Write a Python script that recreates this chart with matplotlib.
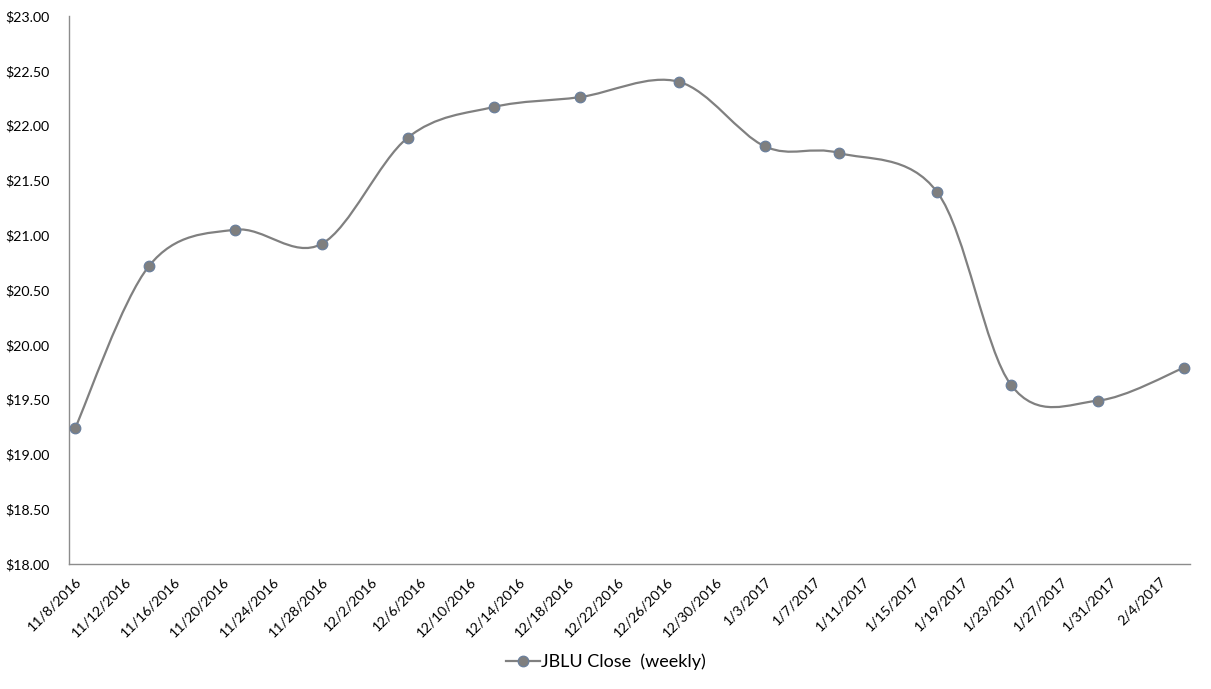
import datetime as dt
import matplotlib
matplotlib.use("Agg")
import matplotlib.pyplot as plt
import matplotlib.dates as mdates
from matplotlib.path import Path
from matplotlib.patches import PathPatch
from matplotlib.lines import Line2D

# weekly closes
dates = ["2016-11-08", "2016-11-14", "2016-11-21", "2016-11-28", "2016-12-05",
         "2016-12-12", "2016-12-19", "2016-12-27", "2017-01-03", "2017-01-09",
         "2017-01-17", "2017-01-23", "2017-01-30", "2017-02-06"]
close = [19.24, 20.72, 21.05, 20.92, 21.89, 22.17, 22.26, 22.40, 21.81, 21.75,
         21.39, 19.63, 19.49, 19.79]

label = "JBLU Close  (weekly)"
line_col = "#808080"
mark_col = "#7f7f7f"
edge_col = "#6a7f9c"

x = [mdates.date2num(dt.datetime.strptime(d, "%Y-%m-%d")) for d in dates]
y = close


def smooth_path(xs, ys):
    # excel style smoothed line: catmull-rom turned into cubic bezier pieces
    n = len(xs)
    verts = [(xs[0], ys[0])]
    codes = [Path.MOVETO]
    for i in range(n - 1):
        i0 = max(i - 1, 0)
        i3 = min(i + 2, n - 1)
        c1 = (xs[i] + (xs[i + 1] - xs[i0]) / 6.0, ys[i] + (ys[i + 1] - ys[i0]) / 6.0)
        c2 = (xs[i + 1] - (xs[i3] - xs[i]) / 6.0, ys[i + 1] - (ys[i3] - ys[i]) / 6.0)
        verts += [c1, c2, (xs[i + 1], ys[i + 1])]
        codes += [Path.CURVE4] * 3
    return Path(verts, codes)


plt.rcParams["font.family"] = ["Lato", "DejaVu Sans"]

fig = plt.figure(figsize=(12.11, 6.89), dpi=100, facecolor="w")
ax = fig.add_axes([0.057, 0.1814, 0.9256, 0.7954])

ax.add_patch(PathPatch(smooth_path(x, y), facecolor="none", edgecolor=line_col,
                       linewidth=1.6, zorder=2))
ax.plot(x, y, linestyle="none", marker="o", markersize=7.6,
        markerfacecolor=mark_col, markeredgecolor=edge_col, markeredgewidth=0.9,
        zorder=3)

ax.set_xlim(x[0] - 0.5, x[-1] + 0.5)
ax.set_ylim(18, 23)

start = dt.datetime(2016, 11, 8)
ticks = [start + dt.timedelta(days=4 * k) for k in range(23)]
ax.set_xticks([mdates.date2num(t) for t in ticks])
ax.set_xticklabels(["%d/%d/%d" % (t.month, t.day, t.year) for t in ticks],
                   rotation=45, ha="right", rotation_mode="anchor")
yt = [18 + 0.5 * k for k in range(11)]
ax.set_yticks(yt)
ax.set_yticklabels(["$%.2f" % v for v in yt])

ax.tick_params(axis="both", length=0, labelsize=10.2, colors="black")
ax.tick_params(axis="x", pad=8)
ax.tick_params(axis="y", pad=14)

for s in ["top", "right"]:
    ax.spines[s].set_visible(False)
for s in ["left", "bottom"]:
    ax.spines[s].set_color("#8c8c8c")
    ax.spines[s].set_linewidth(1.0)

handle = Line2D([0], [0], color=line_col, linewidth=1.6, marker="o", markersize=7.6,
                markerfacecolor=mark_col, markeredgecolor=edge_col, markeredgewidth=0.9)
fig.legend([handle], [label], loc="center", bbox_to_anchor=(0.5, 0.039),
           frameon=False, fontsize=13, handlelength=1.9, handletextpad=0.05)

fig.savefig("out.png", dpi=100, facecolor="w")
